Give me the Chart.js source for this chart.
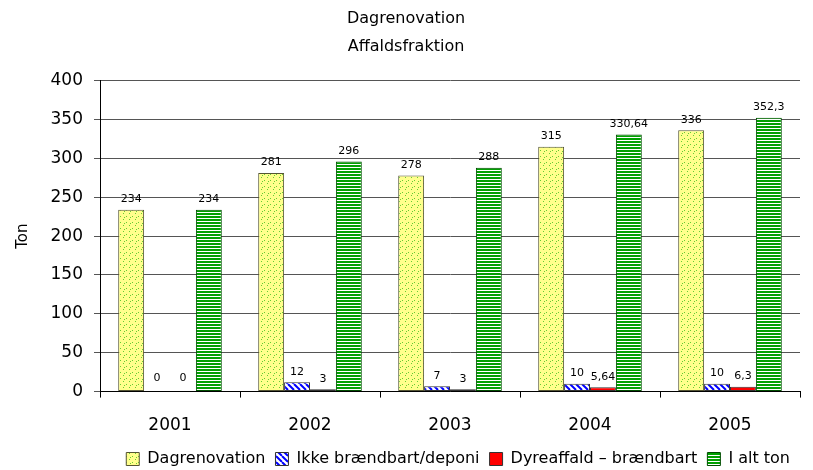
<!DOCTYPE html>
<html>
<head>
<meta charset="utf-8">
<script src="https://cdn.jsdelivr.net/npm/chart.js@4"></script>
<style>
  html, body { margin: 0; padding: 0; background: #fff; }
  #wrap { width: 813px; height: 470px; position: relative; }
</style>
</head>
<body>
<div id="wrap"><canvas id="chart"></canvas></div>
<script>
// Affaldsmængder pr. år (ton)
const years = ['2001', '2002', '2003', '2004', '2005'];
const seriesNames = ['Dagrenovation', 'Ikke brændbart/deponi', 'Dyreaffald – brændbart', 'I alt ton'];
const dagrenovation = [234, 281, 278, 315, 336];
const ikkeBraendbart = [0, 12, 7, 10, 10];
const dyreaffald = [0, 3, 3, 5.64, 6.3];
const iAltTon = [234, 296, 288, 330.64, 352.3];
const yTicks = [0, 50, 100, 150, 200, 250, 300, 350, 400];

const FONT = '"DejaVu Sans", sans-serif';

// small tiles used as fill patterns
function makePattern(w, h, draw) {
  const c = document.createElement('canvas');
  c.width = w; c.height = h;
  const g = c.getContext('2d');
  draw(g, w, h);
  return g.createPattern(c, 'repeat');
}

const dotPattern = makePattern(6, 6, (g, w, h) => {
  g.fillStyle = '#ffff8c';
  g.fillRect(0, 0, w, h);
  g.fillStyle = '#66cc33';
  g.fillRect(0, 0, 1, 1);
  g.fillRect(3, 3, 1, 1);
  g.fillRect(4, 1, 1, 1);
});

const diagPattern = makePattern(6, 6, (g, w, h) => {
  g.fillStyle = '#ffffff';
  g.fillRect(0, 0, w, h);
  g.strokeStyle = '#0000ff';
  g.lineWidth = 2;
  for (let k = -w; k <= w; k += w) {
    g.beginPath();
    g.moveTo(k, 0);
    g.lineTo(k + w, h);
    g.stroke();
  }
});

const stripePattern = makePattern(4, 3, (g, w, h) => {
  g.fillStyle = '#ffffff';
  g.fillRect(0, 0, w, h);
  g.fillStyle = '#00a000';
  g.fillRect(0, 0, w, 2);
});

function fmt(v) {
  return String(v).replace('.', ',');
}

// value labels above each bar
const valueLabels = {
  id: 'valueLabels',
  afterDatasetsDraw(chart) {
    const ctx = chart.ctx;
    ctx.save();
    ctx.font = '11px ' + FONT;
    ctx.fillStyle = '#000';
    ctx.textAlign = 'center';
    ctx.textBaseline = 'bottom';
    chart.data.datasets.forEach((ds, i) => {
      chart.getDatasetMeta(i).data.forEach((bar, j) => {
        const offset = ds.data[j] === 0 ? 8 : 5;
        ctx.fillText(fmt(ds.data[j]), bar.x, bar.y - offset);
      });
    });
    ctx.restore();
  }
};

const common = {
  borderColor: '#333',
  borderWidth: 1,
  borderSkipped: false,
  categoryPercentage: 0.74,
  barPercentage: 1.0
};

new Chart(document.getElementById('chart'), {
  type: 'bar',
  data: {
    labels: years,
    datasets: [
      { ...common, label: seriesNames[0], data: dagrenovation, backgroundColor: dotPattern, borderColor: '#555533' },
      { ...common, label: seriesNames[1], data: ikkeBraendbart, backgroundColor: diagPattern },
      { ...common, label: seriesNames[2], data: dyreaffald, backgroundColor: '#ff0000' },
      { ...common, label: seriesNames[3], data: iAltTon, backgroundColor: stripePattern, borderColor: '#004d00' }
    ]
  },
  options: {
    responsive: true,
    maintainAspectRatio: false,
    animation: false,
    layout: { padding: { left: 12, right: 13, top: 4, bottom: -7 } },
    plugins: {
      title: {
        display: true,
        text: ['Dagrenovation', 'Affaldsfraktion'],
        color: '#000',
        font: { family: FONT, size: 16, weight: 'normal', lineHeight: 1.8 },
        padding: { top: 0, bottom: 19 }
      },
      legend: {
        position: 'bottom',
        align: 'end',
        labels: {
          color: '#000',
          font: { family: FONT, size: 16 },
          boxWidth: 13,
          boxHeight: 13,
          padding: 10
        }
      },
      tooltip: { enabled: false }
    },
    scales: {
      x: {
        grid: { drawOnChartArea: false, drawTicks: true, tickLength: 6, color: '#000' },
        border: { color: '#000' },
        ticks: { color: '#000', font: { family: FONT, size: 17 }, padding: 18 },
        afterFit: axis => { axis.height -= 13; }
      },
      y: {
        min: 0,
        max: 400,
        afterBuildTicks: axis => { axis.ticks = yTicks.map(v => ({ value: v })); },
        afterFit: axis => { axis.width = 88; },
        grid: { color: '#555', tickLength: 6 },
        border: { color: '#000' },
        ticks: { color: '#000', font: { family: FONT, size: 17 }, padding: 11 },
        title: {
          display: true,
          text: 'Ton',
          color: '#000',
          font: { family: FONT, size: 15 },
          padding: { top: 2, bottom: 4 }
        }
      }
    }
  },
  plugins: [valueLabels]
});
</script>
</body>
</html>
